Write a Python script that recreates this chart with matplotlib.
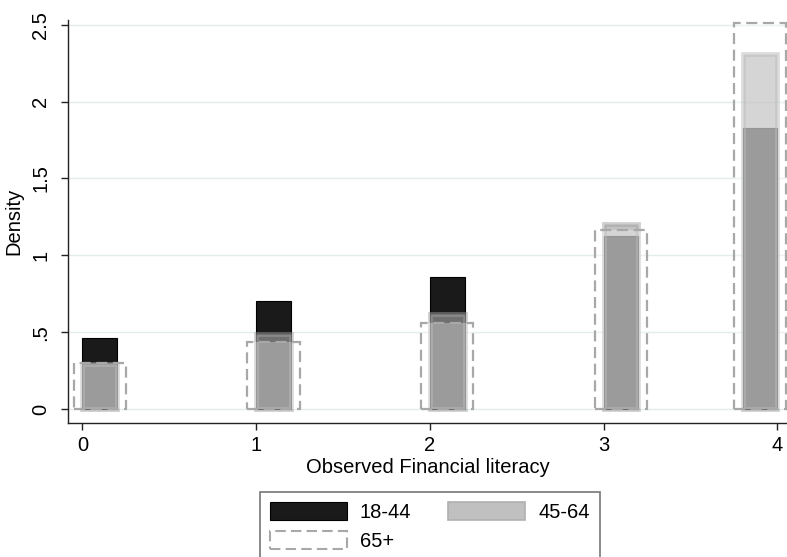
import numpy as np
import matplotlib.pyplot as plt
from matplotlib.patches import Patch

plt.rcParams['font.family'] = ['Liberation Sans', 'DejaVu Sans']

# --- Data (density per bin of width 0.2) ---
bin_left = np.array([0, 1, 2, 3, 3.8])
bin_width = 0.2
dens_18_44 = [0.465, 0.703, 0.857, 1.127, 1.827]
dens_45_64 = [0.295, 0.487, 0.617, 1.201, 2.311]
dens_65p = [0.302, 0.439, 0.558, 1.163, 2.509]
labels = ["18-44", "45-64", "65+"]
x_ticks = [0, 1, 2, 3, 4]
y_ticks = [0, 0.5, 1, 1.5, 2, 2.5]
y_ticklabels = ["0", ".5", "1", "1.5", "2", "2.5"]

centers = bin_left + bin_width / 2

# --- Styles ---
c_black = '#1a1a1a'
c_mid = (0.63, 0.63, 0.63, 0.64)
c_mid_edge = (0.63, 0.63, 0.63, 0.5)
c_white = (1, 1, 1, 0.3)
c_dash = '#a8a8a8'
dash = (0, (5, 2.5))
fs = 14.5

fig = plt.figure(figsize=(7.87, 5.57), dpi=100)
ax = fig.add_axes([68.3 / 787, 1 - 423.3 / 557, (787 - 68.3) / 787, (423.3 - 20) / 557])

ax.bar(centers, dens_18_44, width=bin_width, color=c_black, edgecolor='black',
       linewidth=0.8, zorder=2)
ax.bar(centers, dens_45_64, width=bin_width, color=c_mid, edgecolor=c_mid_edge,
       linewidth=3.5, zorder=3)
ax.bar(centers, dens_65p, width=0.3, color=c_white, edgecolor=c_dash,
       linewidth=1.6, linestyle=dash, zorder=4)

# --- Axes styling ---
ax.set_xlim(-0.081, 4.056)
ax.set_ylim(-0.091, 2.53)
ax.set_xticks(x_ticks)
ax.set_yticks(y_ticks)
ax.set_yticklabels(y_ticklabels, rotation=90, va='center')
ax.tick_params(axis='both', direction='out', length=5, width=1, color='#222',
               labelsize=fs)
ax.tick_params(axis='y', pad=8)
ax.tick_params(axis='x', pad=4)
for s in ['top', 'right']:
    ax.spines[s].set_visible(False)
for s in ['left', 'bottom']:
    ax.spines[s].set_color('#222')
    ax.spines[s].set_linewidth(1)
ax.grid(axis='y', color='#e4ecee', linewidth=1, zorder=0)
ax.set_axisbelow(True)

ax.set_xlabel("Observed Financial literacy", fontsize=fs, labelpad=2)
ax.set_ylabel("Density", fontsize=fs, labelpad=6)

# --- Legend (row-major order: 18-44, 45-64 / 65+) ---
h_black = Patch(facecolor=c_black, edgecolor='black', linewidth=0.8)
h_mid = Patch(facecolor='#c0c0c0', edgecolor='#b0b0b0', linewidth=1.2)
h_white = Patch(facecolor='white', edgecolor=c_dash, linewidth=1.5, linestyle=dash)
leg = fig.legend([h_black, h_white, h_mid], [labels[0], labels[2], labels[1]],
                 loc='upper left', bbox_to_anchor=(260 / 787, 1 - 491.7 / 557),
                 ncol=2, fontsize=fs, frameon=True, fancybox=False,
                 edgecolor='#555555', borderpad=0.5, handlelength=3.8,
                 handleheight=1.0, handletextpad=0.65, columnspacing=1.85,
                 labelspacing=0.45, borderaxespad=0)
leg.get_frame().set_linewidth(1.2)

fig.savefig('out.png', dpi=100)
